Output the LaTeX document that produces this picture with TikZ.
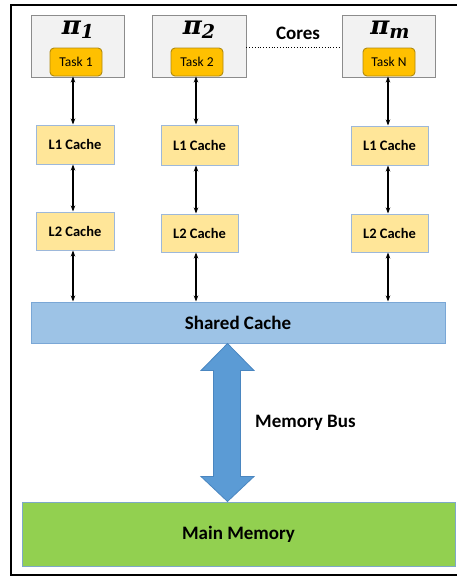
\documentclass[tikz,border=0pt]{standalone}
\usepackage{fontspec}
\setmainfont{Carlito}
\newfontfamily\pifont{DejaVu Serif}
\usetikzlibrary{calc,arrows.meta}

\definecolor{coreFill}{HTML}{F2F2F2}
\definecolor{coreLine}{HTML}{8C8C8C}
\definecolor{taskFill}{HTML}{FFC000}
\definecolor{taskLine}{HTML}{B08A10}
\definecolor{cacheFill}{HTML}{FFE699}
\definecolor{cacheLine}{HTML}{9DB8DA}
\definecolor{sharedFill}{HTML}{9DC3E6}
\definecolor{sharedLine}{HTML}{7AA7D6}
\definecolor{busFill}{HTML}{5B9BD5}
\definecolor{busLine}{HTML}{4A86C0}
\definecolor{mainFill}{HTML}{92D050}
\definecolor{mainLine}{HTML}{7EA9C8}

\newcommand{\corename}[1]{{\pifont\bfseries\itshape\fontsize{26}{28}\selectfont π\raisebox{-4pt}{\fontsize{19}{20}\selectfont #1}}}

\tikzset{
  corebox/.style={draw=coreLine, fill=coreFill, line width=0.9pt, inner sep=0pt,
    minimum width=93pt, minimum height=62pt},
  taskbox/.style={draw=taskLine, fill=taskFill, line width=0.9pt, rounded corners=4pt,
    inner sep=0pt, minimum width=52pt, minimum height=28pt,
    font=\fontsize{13.5}{15}\selectfont},
  cachebox/.style={draw=cacheLine, fill=cacheFill, line width=1pt, inner sep=0pt,
    minimum width=77pt, minimum height=39pt, font=\bfseries\fontsize{14.5}{16}\selectfont},
  boldtext/.style={font=\bfseries\fontsize{19}{21}\selectfont, inner sep=0pt},
  link/.style={line width=1.5pt, {Stealth[length=6pt,width=4.5pt]}-{Stealth[length=6pt,width=4.5pt]}},
}

\begin{document}
\begin{tikzpicture}[x=1pt,y=-1pt]
  \useasboundingbox (0,0) rectangle (457,576);

  % outer frame, open at the right-hand edge
  \draw[line width=2.5pt] (458,5) -- (11,5) -- (11,575) -- (458,575);

  % cores
  \node[corebox] (core1) at (77.5,46) {};
  \node[corebox, minimum width=94pt] (core2) at (199,46) {};
  \node[corebox] (core3) at (388.5,46) {};

  \node[inner sep=0pt] (pi1) at (78,30) {\corename{1}};
  \node[inner sep=0pt] (pi2) at (199,30) {\corename{2}};
  \node[inner sep=0pt] (pi3) at (390,30) {\corename{m}};

  \node[taskbox] (t1) at (76,62) {Task 1};
  \node[taskbox] (t2) at (197,62) {Task 2};
  \node[taskbox] (t3) at (389,62) {Task N};

  \node[boldtext] (cores) at (298,33) {Cores};
  \coordinate (dy) at (0,47);
  \draw[dotted, line width=0.8pt] (core2.east |- dy) -- (core3.west |- dy);

  % private caches
  \node[cachebox, minimum width=78pt] (a1) at (75,144.5) {L1 Cache};
  \node[cachebox, minimum height=40pt] (a2) at (199.5,145) {L1 Cache};
  \node[cachebox] (a3) at (389.5,145.5) {L1 Cache};

  \node[cachebox, minimum width=78pt, minimum height=38pt] (b1) at (75,231) {L2 Cache};
  \node[cachebox, minimum height=38pt] (b2) at (199.5,233) {L2 Cache};
  \node[cachebox, minimum height=38pt] (b3) at (389.5,233) {L2 Cache};

  % shared cache and main memory
  \node[draw=sharedLine, fill=sharedFill, line width=1pt, inner sep=0pt,
        minimum width=414pt, minimum height=41pt,
        font=\bfseries\fontsize{19}{21}\selectfont] (sh) at (238,322.5) {Shared Cache};
  \node[draw=mainLine, fill=mainFill, line width=1pt, inner sep=0pt,
        minimum width=433pt, minimum height=64pt,
        font=\bfseries\fontsize{19}{21}\selectfont] (mm) at (238.5,534) {Main Memory};

  % column positions of the links
  \coordinate (x1) at (73,0);
  \coordinate (x2) at (196,0);
  \coordinate (x3) at (388,0);

  \foreach \c in {1,2,3}{
    \draw[link] (t\c.south -| x\c) -- (a\c.north -| x\c);
    \draw[link] (a\c.south -| x\c) -- (b\c.north -| x\c);
    \draw[link] (b\c.south -| x\c) -- (sh.north -| x\c);
  }

  % memory bus
  \coordinate (bx) at (227.5,0);
  \coordinate (bt) at (sh.south -| bx);
  \coordinate (bb) at (mm.north -| bx);
  \draw[draw=busLine, fill=busFill, line width=0.8pt]
    (bt) -- ($(bt)+(26.5,27)$) -- ($(bt)+(13,27)$) -- ($(bb)+(13,-25)$)
    -- ($(bb)+(26.5,-25)$) -- (bb) -- ($(bb)+(-26.5,-25)$) -- ($(bb)+(-14,-25)$)
    -- ($(bt)+(-14,27)$) -- ($(bt)+(-26.5,27)$) -- cycle;
  \node[boldtext, anchor=west] (busl) at (255,423) {Memory Bus};
\end{tikzpicture}
\end{document}
